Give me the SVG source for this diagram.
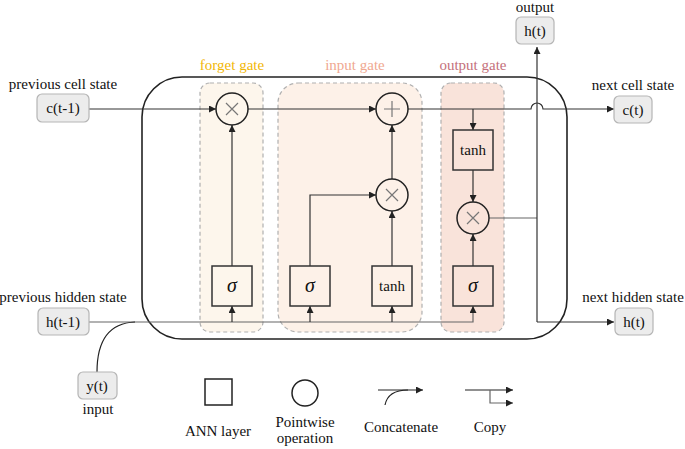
<svg xmlns="http://www.w3.org/2000/svg" width="685" height="449" viewBox="0 0 685 449" font-family="'Liberation Serif','Times New Roman','DejaVu Serif',serif">
<defs>
<marker id="ah" viewBox="0 0 10 10" refX="10" refY="5" markerWidth="7" markerHeight="7" markerUnits="userSpaceOnUse" orient="auto"><path d="M0,0 L10,5 L0,10 z" fill="#222"/></marker>
<style>
text{font-family:'Liberation Serif','Times New Roman','DejaVu Serif',serif}
.lbl{font-size:14px;fill:#8a8a8a;text-anchor:middle}
.glbl{font-size:15px;text-anchor:middle}
.io rect{fill:#ececec;stroke:#b5b5b5;stroke-width:1.2}
.io text{font-size:15px;fill:#111;text-anchor:middle}
.layer rect{fill:none;stroke:#333;stroke-width:1.5}
.layer text{font-size:15px;fill:#111;text-anchor:middle}
.layer text.sig{font-style:italic;font-size:20px}
.op circle{fill:none;stroke:#222;stroke-width:1.5}
.op path{stroke:#777;stroke-width:1.2;fill:none}
.gate{stroke:#b0b0b0;stroke-width:1.2;stroke-dasharray:4 3}
.conn path{fill:none;stroke:#333;stroke-width:1.2}
.legt{font-size:15px;fill:#111;text-anchor:middle}
</style>
</defs>
<rect width="685" height="449" fill="#fff"/>

<!-- gates -->
<g id="forget-gate">
<rect class="gate" x="200" y="83" width="63" height="249" rx="10" fill="#fdf6ec"/>
<text class="glbl" x="232" y="70" fill="#f2b705">forget gate</text>
</g>
<g id="input-gate">
<rect class="gate" x="278" y="83" width="144" height="249" rx="20" fill="#fdf1e8"/>
<text class="glbl" x="355" y="70" fill="#f0a891">input gate</text>
</g>
<g id="output-gate">
<rect class="gate" x="441" y="83" width="63" height="249" rx="10" fill="#f9e3da"/>
<text class="glbl" x="473" y="70" fill="#c4707b">output gate</text>
</g>

<!-- cell -->
<g id="cell">
<rect x="142" y="77" width="425" height="262" rx="40" fill="none" stroke="#222" stroke-width="1.6"/>
</g>

<!-- connectors -->
<g class="conn" id="connectors">
<path d="M89,109 H216" marker-end="url(#ah)"/>
<path d="M248,109 H376" marker-end="url(#ah)"/>
<path d="M408,109 H531 A6,6 0 0 1 543,109 H614" marker-end="url(#ah)"/>
<path d="M473,109 V130" marker-end="url(#ah)"/>
<path d="M473,170 V202" marker-end="url(#ah)"/>
<path d="M473,266 V234" marker-end="url(#ah)"/>
<path d="M232,266 V125" marker-end="url(#ah)"/>
<path d="M310,266 V195 H376" marker-end="url(#ah)"/>
<path d="M392,266 V211" marker-end="url(#ah)"/>
<path d="M392,179 V125" marker-end="url(#ah)"/>
<path d="M489,218 H537" style="stroke:#666"/>
<path d="M537,322 V47" marker-end="url(#ah)"/>
<path d="M537,322 H614" marker-end="url(#ah)"/>
<path d="M89,322 H473 V306" style="stroke:#666" marker-end="url(#ah)"/>
<path d="M232,322 V306" marker-end="url(#ah)"/>
<path d="M310,322 V306" marker-end="url(#ah)"/>
<path d="M392,322 V306" marker-end="url(#ah)"/>
<path d="M97,372 C97,340 110,323 135,322" style="stroke:#222"/>
</g>

<!-- ops -->
<g class="op" id="op-forget-mul"><circle cx="232" cy="109" r="16"/><path d="M226,103 L238,115 M238,103 L226,115"/></g>
<g class="op" id="op-add"><circle cx="392" cy="109" r="16"/><path d="M392,101 V117 M384,109 H400"/></g>
<g class="op" id="op-input-mul"><circle cx="392" cy="195" r="16"/><path d="M386,189 L398,201 M398,189 L386,201"/></g>
<g class="op" id="op-output-mul"><circle cx="473" cy="218" r="16"/><path d="M467,212 L479,224 M479,212 L467,224"/></g>

<!-- layers -->
<g class="layer" id="forget-sigma"><rect x="212" y="266" width="40" height="40"/><text class="sig" x="232" y="292">σ</text></g>
<g class="layer" id="input-sigma"><rect x="290" y="266" width="40" height="40"/><text class="sig" x="310" y="292">σ</text></g>
<g class="layer" id="input-tanh"><rect x="372" y="266" width="40" height="40"/><text x="392" y="291">tanh</text></g>
<g class="layer" id="output-sigma"><rect x="453" y="266" width="40" height="40"/><text class="sig" x="473" y="292">σ</text></g>
<g class="layer" id="output-tanh"><rect x="453" y="130" width="40" height="40"/><text x="473" y="155">tanh</text></g>

<!-- io nodes -->
<g class="io" id="c-prev"><text class="lbl" x="63" y="89">previous cell state</text><rect x="37" y="94" width="52" height="28" rx="5"/><text x="63" y="113">c(t-1)</text></g>
<g class="io" id="h-prev"><text class="lbl" x="63" y="302">previous hidden state</text><rect x="38" y="308" width="51" height="27" rx="5"/><text x="63" y="327">h(t-1)</text></g>
<g class="io" id="y-in"><rect x="78" y="372" width="39" height="27" rx="5"/><text x="97" y="391">y(t)</text><text class="lbl" x="98" y="414">input</text></g>
<g class="io" id="h-out"><text class="lbl" x="535" y="12">output</text><rect x="516" y="17" width="38" height="27" rx="5"/><text x="535" y="36">h(t)</text></g>
<g class="io" id="c-next"><text class="lbl" x="633" y="90">next cell state</text><rect x="614" y="96" width="38" height="27" rx="5"/><text x="633" y="115">c(t)</text></g>
<g class="io" id="h-next"><text class="lbl" x="633" y="302">next hidden state</text><rect x="615" y="308" width="38" height="27" rx="5"/><text x="634" y="327">h(t)</text></g>

<!-- legend -->
<g id="legend">
<rect x="205" y="379" width="27" height="26" fill="none" stroke="#222" stroke-width="1.5"/>
<text class="legt" x="218" y="436">ANN layer</text>
<circle cx="305" cy="393" r="13" fill="none" stroke="#222" stroke-width="1.5"/>
<text class="legt" x="305" y="427">Pointwise</text>
<text class="legt" x="305" y="443">operation</text>
<path d="M378,390 H423" fill="none" stroke="#222" stroke-width="1.2" marker-end="url(#ah)"/>
<path d="M385,405 C387,395 395,390 408,390" fill="none" stroke="#222" stroke-width="1.2"/>
<text class="legt" x="401" y="432">Concatenate</text>
<path d="M465,390 H513" fill="none" stroke="#222" stroke-width="1.2" marker-end="url(#ah)"/>
<path d="M490,390 V403 H513" fill="none" stroke="#666" stroke-width="1.2" marker-end="url(#ah)"/>
<text class="legt" x="490" y="432">Copy</text>
</g>
</svg>
